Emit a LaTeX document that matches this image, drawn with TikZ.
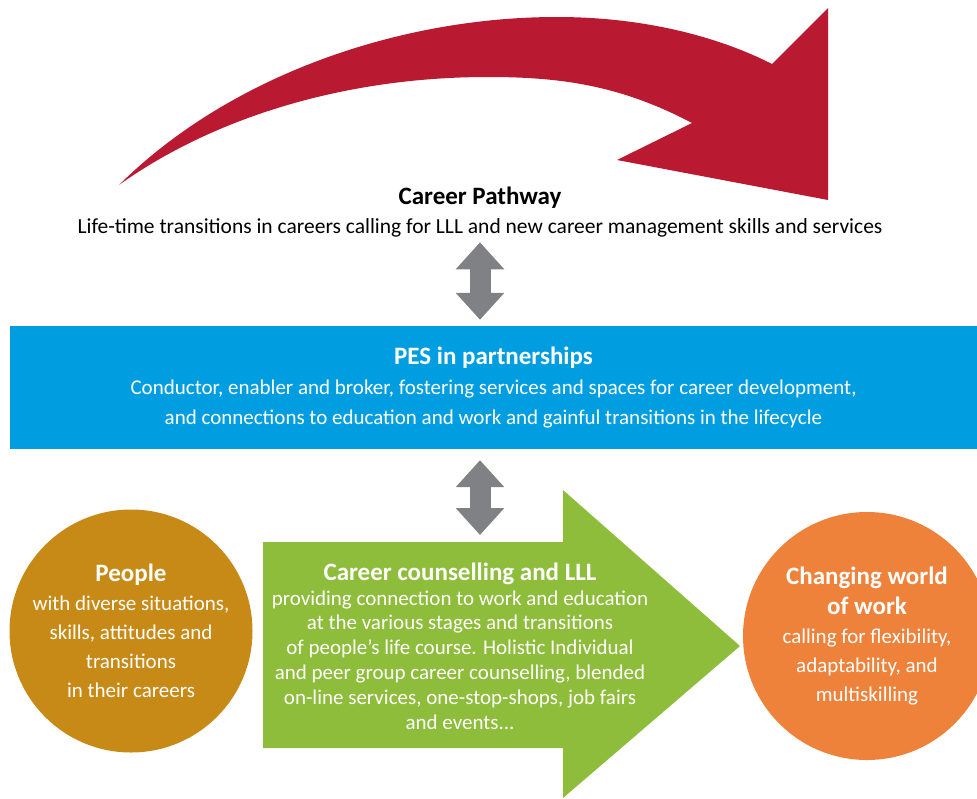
\documentclass[tikz,border=0pt]{standalone}
\usepackage{fontspec}
\setmainfont{Carlito}
\usetikzlibrary{arrows.meta}

\definecolor{pathred}{RGB}{186,26,49}
\definecolor{pesblue}{RGB}{0,158,224}
\definecolor{lllgreen}{RGB}{142,189,59}
\definecolor{peoplegold}{RGB}{200,138,22}
\definecolor{workorange}{RGB}{238,130,58}
\definecolor{linkgray}{RGB}{128,129,132}

\newcommand{\boldhead}[1]{{\bfseries\fontsize{25}{29}\selectfont #1}}

\begin{document}
\begin{tikzpicture}[x=1pt, y=-1pt,
  txt/.style={font=\fontsize{21}{29}\selectfont, align=center, inner sep=0pt},
  blob/.style={circle, inner sep=0pt, text=white, txt},
  link/.style={draw=linkgray, line width=21pt,
    {Triangle[length=27pt,width=47pt]}-{Triangle[length=27pt,width=47pt]}}]

\useasboundingbox (0,0) rectangle (977,798);
\clip (0,0) rectangle (977,798);

% career pathway arrow
\fill[pathred] (119,185) .. controls (230,75) and (400,17) .. (557,17)
  .. controls (640,17) and (715,35) .. (772,64)
  -- (828,8) -- (828,200) -- (617,160) -- (692,123)
  .. controls (620,85) and (560,77) .. (488,77)
  .. controls (340,77) and (210,120) .. (119,185) -- cycle;

\node[txt, font=\fontsize{21.5}{29}\selectfont] (path) at (480,212) {\boldhead{Career Pathway}\\
  Life-time transitions in careers calling for LLL and new career management skills and services};

\node[txt, font=\fontsize{21}{30}\selectfont, fill=pesblue, text=white,
  minimum width=967pt, minimum height=123pt]
  (pes) at (493.5,387.5) {\boldhead{PES in partnerships}\\
  Conductor, enabler and broker, fostering services and spaces for career development,\\
  and connections to education and work and gainful transitions in the lifecycle};

% counselling arrow
\fill[lllgreen] (263,542) coordinate (body) -- (563,542) -- (563,490) -- (740,646)
  -- (563,798) -- (563,748) -- (263,748) -- cycle;

\node[txt, text=white, font=\fontsize{21}{24.8}\selectfont] (lll) at (460,646)
  {\boldhead{Career counselling and LLL}\\
  providing connection to work and education\\
  at the various stages and transitions\\
  of people’s life course. Holistic Individual\\
  and peer group career counselling, blended\\
  on-line services, one-stop-shops, job fairs\\
  and events...};

\node[blob, fill=peoplegold, minimum size=243pt] (people) at (131,631) {\boldhead{People}\\
  with diverse situations,\\ skills, attitudes and\\ transitions\\ in their careers};

\node[blob, fill=workorange, minimum size=248pt] (work) at (867,636)
  {\boldhead{Changing world}\\[1pt] \boldhead{of work}\\
  calling for flexibility,\\ adaptability, and\\ multiskilling};

\draw[link, shorten <=5pt, shorten >=6pt] (path.south) -- (path.south |- pes.north);
\draw[link, shorten <=11pt, shorten >=7pt] (pes.south -| path.south) -- (path.south |- body);
\end{tikzpicture}
\end{document}
